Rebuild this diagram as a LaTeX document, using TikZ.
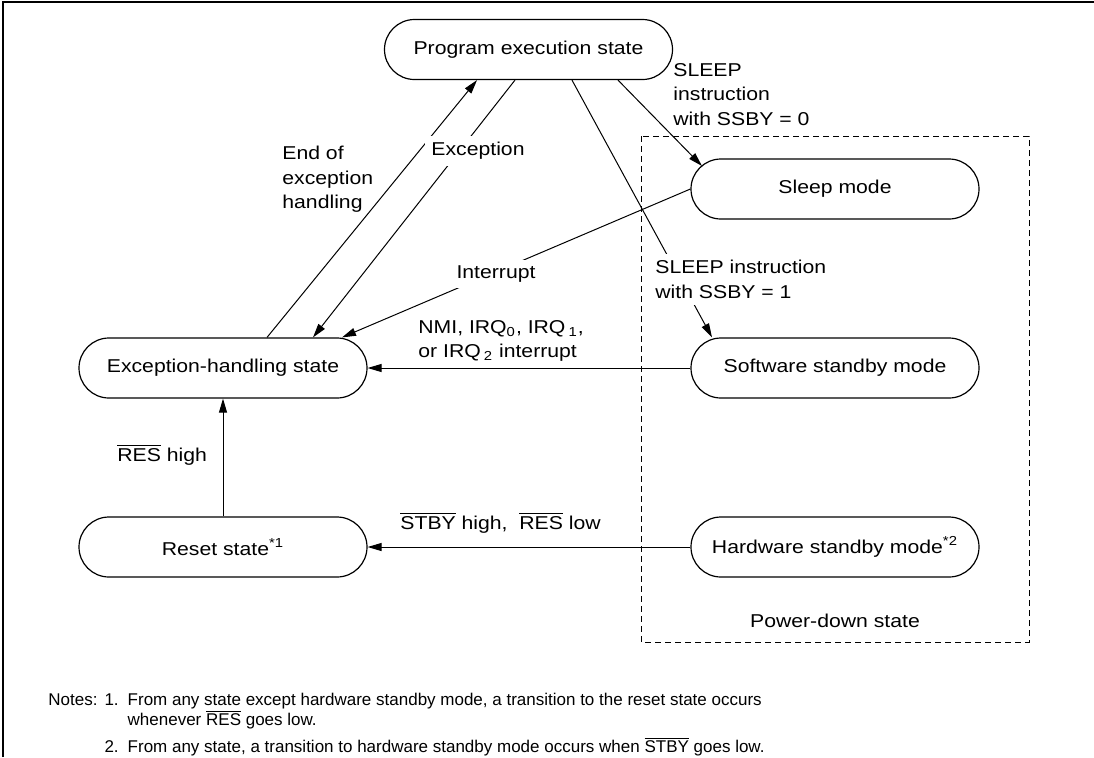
\documentclass[tikz,border=0pt]{standalone}
\usepackage{fontspec}
\setmainfont{Liberation Sans}[FakeStretch=1.14]
\newfontfamily\notefont{Liberation Sans}
\usetikzlibrary{arrows.meta}
\newcommand{\ovl}[1]{$\overline{\mbox{#1}}$}
\tikzset{state/.style={draw, line width=0.6pt, rounded corners=15pt, minimum width=144pt, minimum height=30pt}}
\tikzset{trans/.style={line width=0.5pt, -{Triangle[length=7pt,width=4pt]}}}
\tikzset{lbl/.style={inner sep=0pt, align=left}}
\tikzset{lblw/.style={lbl, fill=white, inner sep=3pt}}
\tikzset{note/.style={inner sep=0pt, font=\notefont\fontsize{8.5pt}{8.5pt}\selectfont}}

\begin{document}
\begin{tikzpicture}[x=0.5pt, y=-0.5pt, font=\fontsize{9.3pt}{12.25pt}\selectfont]
        \useasboundingbox (0,0) rectangle (1094,757);
        \draw[line width=0.7pt] (3,757) -- (3,2) -- (1094,2);
        \draw[dashed, dash pattern=on 3pt off 2pt, line width=0.5pt] (641,136) rectangle (1029,642);
        % states
        \node[state] (prog) at (528.5,49.5) {Program execution state};
        \node[state] (sleep) at (835,189) {Sleep mode};
        \node[state] (exc) at (223,368) {Exception-handling state};
        \node[state] (soft) at (835,368) {Software standby mode};
        \node[state] (reset) at (223,547) {Reset state\textsuperscript{*1}};
        \node[state] (hard) at (835,547) {Hardware standby mode\textsuperscript{*2}};
        % transitions
        \draw[trans] ([xshift=22pt]exc.north) -- ([xshift=-25.75pt]prog.south);
        \draw[trans] ([xshift=-6.75pt]prog.south) -- ([xshift=45pt]exc.north);
        \draw[trans] (sleep.west) -- ([xshift=59.5pt]exc.north);
        \draw[trans] ([xshift=44.75pt]prog.south) -- ([xshift=-66.5pt,yshift=11.5pt]sleep.center);
        \draw[trans] ([xshift=21.75pt]prog.south) -- ([xshift=-61.5pt]soft.north);
        \draw[trans] (soft) -- (exc);
        \draw[trans] (hard) -- (reset);
        \draw[trans] (reset) -- (exc);
        % labels
        \node[lbl, anchor=north west] (lend) at (282,146) {End of\\exception\\handling};
        \node[lblw] (lexc) at (478,151) {Exception};
        \node[lblw] (lint) at (496,274) {Interrupt};
        \node[lbl, anchor=north west] (lsb0) at (673,63) {SLEEP\\instruction\\with SSBY = 0};
        \node[lblw, anchor=north west] (lsb1) at (649,254) {SLEEP instruction\\with SSBY = 1};
        \node[lbl, anchor=north west] (lnmi) at (418,320) {NMI, IRQ\textsubscript{0}, IRQ\,\textsubscript{1},\\or IRQ\,\textsubscript{2} interrupt};
        \node[lbl, anchor=base west] (lres) at (117,461.6) {\ovl{RES} high};
        \node[lbl, anchor=base west] (lstby) at (400,529.6) {\ovl{STBY} high,\ \ \ovl{RES} low};
        \node[lbl, anchor=base] (lpow) at (835,627) {Power-down state};
        % notes
        \node[note, anchor=base west] (notes) at (48,705) {\begin{tabular}[t]{@{}l@{\hspace{3.5pt}}l@{\hspace{4.5pt}}l@{}}
          Notes: & 1. & From any state except hardware standby mode, a transition to the reset state occurs\\
                 &    & whenever \ovl{RES} goes low.\\[3pt]
                 & 2. & From any state, a transition to hardware standby mode occurs when \ovl{STBY} goes low.
        \end{tabular}};
\end{tikzpicture}
\end{document}
